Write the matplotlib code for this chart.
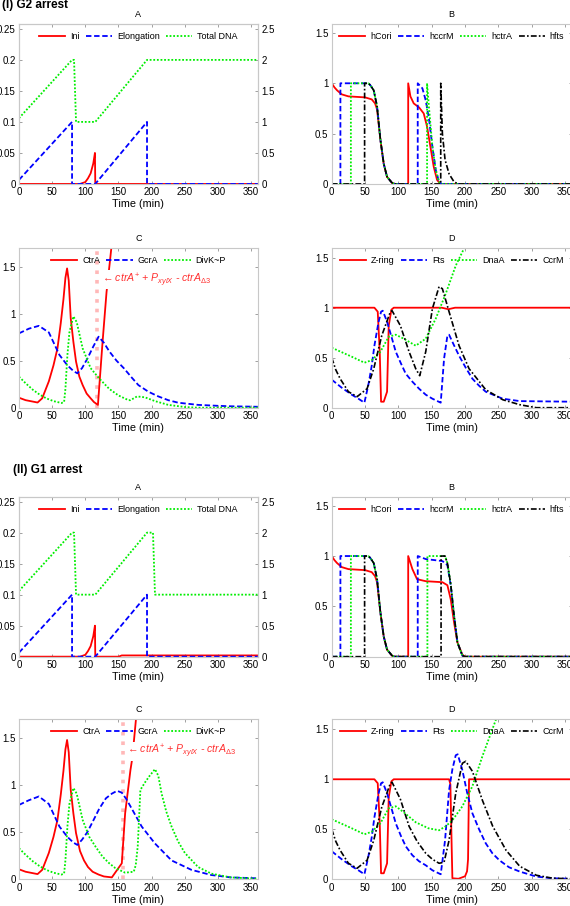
import numpy as np
import matplotlib
matplotlib.use('Agg')
import matplotlib.pyplot as plt
from matplotlib.ticker import FuncFormatter

plt.rcParams['font.family'] = ['Liberation Sans', 'DejaVu Sans']
plt.rcParams['mathtext.fontset'] = 'custom'
plt.rcParams['mathtext.it'] = 'Liberation Sans:italic'
plt.rcParams['mathtext.rm'] = 'Liberation Sans'

# ---------------- (I) G2 arrest ----------------
# panel A
g2_ini_t = [0, 92, 100, 104, 108, 112, 114.5, 115, 360]
g2_ini = [0, 0, 0.003, 0.009, 0.017, 0.033, 0.05, 0, 0]
g2_elong_t = [0, 80, 80, 115, 193, 193, 360]
g2_elong = [0.0065, 0.1, 0, 0, 0.1, 0, 0]
g2_dna_t = [0, 80, 83, 86, 115, 193, 360]
g2_dna = [1.06, 2, 2, 1, 1, 2, 2]

# panel B
g2_hcori_t = [0, 4, 8, 15, 25, 50, 60, 65, 68, 73, 78, 83, 90.5, 95, 114.7, 114.7,
              118, 123, 131, 138, 143, 148, 153, 158, 163, 360]
g2_hcori = [1, 0.96, 0.93, 0.89, 0.87, 0.86, 0.84, 0.8, 0.74, 0.44, 0.2, 0.07, 0.01, 0, 0, 1,
            0.87, 0.8, 0.76, 0.7, 0.57, 0.37, 0.17, 0.04, 0, 0]
g2_hccrm_t = [0, 13, 13, 55, 58, 63, 68, 73, 78, 83, 90.5, 95, 129, 129, 136, 141, 146,
              151, 156, 161, 165, 360]
g2_hccrm = [0, 0, 1, 1, 0.98, 0.93, 0.77, 0.44, 0.2, 0.07, 0.01, 0, 0, 1, 0.95, 0.83, 0.64,
            0.37, 0.14, 0.02, 0, 0]
g2_hctra_t = [0, 28.7, 28.7, 55, 58, 63, 68, 73, 78, 83, 90.5, 95, 143, 143, 146, 151,
              156, 161, 165, 360]
g2_hctra = [0, 0, 1, 1, 0.98, 0.93, 0.77, 0.44, 0.2, 0.07, 0.01, 0, 0, 1, 0.75, 0.37,
            0.14, 0.02, 0, 0]
g2_hfts_t = [0, 49.3, 49.3, 55, 58, 63, 68, 73, 78, 83, 90.5, 95, 163.5, 163.5, 166, 170,
             176, 183.5, 190, 360]
g2_hfts = [0, 0, 1, 1, 0.98, 0.93, 0.77, 0.44, 0.2, 0.07, 0.01, 0, 0, 1, 0.5, 0.24,
           0.1, 0.02, 0, 0]

# panel C
g2_ctra_t = [0, 10, 28, 35, 45, 52, 58, 63, 67, 70, 72.5, 75, 78, 82, 86, 91, 96, 102,
             108, 113, 119, 126, 132, 137, 140]
g2_ctra = [0.106, 0.08, 0.055, 0.1, 0.28, 0.45, 0.63, 0.9, 1.15, 1.38, 1.48, 1.35, 0.95,
           0.7, 0.49, 0.33, 0.24, 0.15, 0.1, 0.06, 0.03, 0.7, 1.23, 1.55, 1.75]
g2_gcra_t = [0, 15, 30, 45, 61, 73, 82, 88, 95, 103, 112, 120, 128, 136, 147, 158, 170,
             180, 195, 210, 225, 240, 270, 300, 320, 360]
g2_gcra = [0.79, 0.84, 0.87, 0.8, 0.56, 0.45, 0.39, 0.365, 0.42, 0.52, 0.65, 0.755, 0.69,
           0.6, 0.5, 0.42, 0.32, 0.24, 0.17, 0.12, 0.08, 0.053, 0.03, 0.02, 0.015, 0.01]
g2_divk_t = [0, 10, 21, 31, 41, 52, 64, 68, 70, 73, 76, 82, 87, 96, 108, 121, 136, 150,
             165, 168, 178, 190, 205, 225, 250, 270, 360]
g2_divk = [0.33, 0.26, 0.19, 0.14, 0.1, 0.07, 0.05, 0.06, 0.2, 0.56, 0.8, 0.97, 0.91,
           0.63, 0.42, 0.31, 0.2, 0.13, 0.08, 0.08, 0.12, 0.11, 0.07, 0.03, 0.007, 0, 0]
g2_release = 118

# panel D
g2_zring_t = [0, 64, 69, 72, 74, 78, 83, 85.5, 89.5, 93, 165, 175, 185, 360]
g2_zring = [1, 1, 0.96, 0.56, 0.06, 0.06, 0.16, 0.82, 0.98, 1, 1, 0.985, 1, 1]
g2_fts_t = [0, 15, 30, 40, 49, 55, 60, 64, 70, 74, 76.5, 83, 90, 96, 104, 111, 121, 131,
            141, 151, 163.5, 168.5, 173.5, 176, 183, 191, 201, 211, 221, 231, 256.5, 282, 360]
g2_fts = [0.28, 0.2, 0.13, 0.09, 0.05, 0.23, 0.42, 0.62, 0.85, 0.96, 0.97, 0.86, 0.7,
          0.56, 0.44, 0.34, 0.26, 0.19, 0.13, 0.09, 0.05, 0.49, 0.72, 0.73, 0.63, 0.52,
          0.4, 0.29, 0.22, 0.16, 0.09, 0.066, 0.06]
g2_dnaa_t = [0, 15, 30, 49, 60, 73, 85.5, 96, 108, 126, 141, 156, 171, 186, 199, 205]
g2_dnaa = [0.6, 0.555, 0.51, 0.45, 0.475, 0.56, 0.71, 0.73, 0.69, 0.62, 0.69, 0.89,
           1.14, 1.42, 1.6, 1.75]
g2_ccrm_t = [0, 6, 12.6, 25, 38, 53, 63, 75, 88, 90.5, 103, 116, 126, 132, 141, 151, 161,
             166, 176, 191, 206, 231, 256.5, 282, 307, 360]
g2_ccrm = [0.5, 0.38, 0.29, 0.16, 0.11, 0.19, 0.39, 0.72, 0.96, 0.97, 0.82, 0.56, 0.39,
           0.32, 0.56, 0.99, 1.21, 1.19, 0.96, 0.62, 0.39, 0.18, 0.08, 0.03, 0.0, 0.0]

# ---------------- (II) G1 arrest ----------------
# panel A
g1_ini_t = [0, 92, 100, 104, 108, 112, 114.5, 115, 150, 155, 360]
g1_ini = [0, 0, 0.003, 0.009, 0.017, 0.033, 0.05, 0, 0, 0.002, 0.002]
g1_elong_t = [0, 80, 80, 115, 193, 193, 360]
g1_elong = [0.0065, 0.1, 0, 0, 0.1, 0, 0]
g1_dna_t = [0, 80, 83, 86, 115, 193, 202, 205, 360]
g1_dna = [1.06, 2, 2, 1, 1, 2, 2, 1, 1]

# panel B
g1_hcori_t = [0, 4, 8, 15, 25, 50, 60, 65, 68, 73, 78, 83, 90.5, 95, 114.7, 114.7,
              121, 128, 141, 166, 173.5, 178.5, 183.5, 188.6, 196, 200, 360]
g1_hcori = [1, 0.96, 0.93, 0.89, 0.87, 0.86, 0.84, 0.8, 0.74, 0.44, 0.2, 0.07, 0.01, 0, 0, 1,
            0.87, 0.77, 0.75, 0.74, 0.71, 0.57, 0.34, 0.14, 0.02, 0, 0]
g1_hccrm_t = [0, 13, 13, 55, 58, 63, 68, 73, 78, 83, 90.5, 95, 129, 129, 141, 166, 173.5,
              178.5, 183.5, 188.6, 196, 200, 360]
g1_hccrm = [0, 0, 1, 1, 0.98, 0.93, 0.77, 0.44, 0.2, 0.07, 0.01, 0, 0, 1, 0.97, 0.95, 0.91,
            0.71, 0.41, 0.14, 0.01, 0, 0]
g1_hctra_t = [0, 28.7, 28.7, 55, 58, 63, 68, 73, 78, 83, 90.5, 95, 143.5, 143.5, 170,
              173.5, 178.5, 183.5, 188.6, 196, 200, 360]
g1_hctra = [0, 0, 1, 1, 0.98, 0.93, 0.77, 0.44, 0.2, 0.07, 0.01, 0, 0, 1, 1,
            0.93, 0.72, 0.41, 0.14, 0.01, 0, 0]
g1_hfts_t = [0, 49.3, 49.3, 55, 58, 63, 68, 73, 78, 83, 90.5, 95, 164, 164, 170,
             173.5, 178.5, 183.5, 188.6, 196, 200, 360]
g1_hfts = [0, 0, 1, 1, 0.98, 0.93, 0.77, 0.44, 0.2, 0.07, 0.01, 0, 0, 1, 1,
           0.93, 0.72, 0.41, 0.14, 0.01, 0, 0]

# panel C
g1_ctra_t = [0, 10, 28, 35, 45, 52, 58, 63, 67, 70, 72.5, 75, 78, 82, 86, 92, 98, 104,
             111, 120, 128, 140, 148, 155, 160, 168, 170, 173, 177]
g1_ctra = [0.106, 0.08, 0.055, 0.1, 0.28, 0.45, 0.63, 0.9, 1.15, 1.38, 1.48, 1.35, 0.95,
           0.7, 0.49, 0.3, 0.2, 0.13, 0.08, 0.05, 0.03, 0.02, 0.1, 0.17, 0.7, 1.16, 1.25,
           1.45, 1.75]
g1_gcra_t = [0, 15, 30, 45, 61, 73, 82, 88, 95, 103, 111, 121, 131, 140, 148, 155, 162,
             170, 185, 205, 230, 260, 290, 319, 360]
g1_gcra = [0.79, 0.84, 0.88, 0.8, 0.56, 0.45, 0.39, 0.365, 0.42, 0.5, 0.61, 0.75, 0.86,
           0.91, 0.94, 0.92, 0.85, 0.75, 0.56, 0.38, 0.2, 0.1, 0.045, 0.02, 0.01]
g1_divk_t = [0, 10, 21, 31, 41, 52, 64, 68, 70, 73, 76, 82, 87, 96, 106, 116, 126, 136,
             145, 160, 173, 176, 179, 183, 190, 197, 205, 210, 215, 222, 230, 240, 250,
             270, 290, 319, 360]
g1_divk = [0.33, 0.26, 0.19, 0.14, 0.1, 0.07, 0.05, 0.06, 0.2, 0.56, 0.8, 0.97, 0.91,
           0.63, 0.45, 0.34, 0.24, 0.17, 0.12, 0.07, 0.08, 0.15, 0.35, 0.95, 1.03, 1.1,
           1.17, 1.1, 0.91, 0.72, 0.56, 0.4, 0.28, 0.13, 0.06, 0.02, 0.005]
g1_release = 157

# panel D
g1_zring_t = [0, 64, 69, 72, 74, 78, 83, 85.5, 89.5, 93, 176, 178, 180, 181, 190, 200,
              203, 204.5, 206, 360]
g1_zring = [1, 1, 0.96, 0.56, 0.06, 0.06, 0.16, 0.82, 0.98, 1, 1, 0.95, 0.3, 0.01, 0.005,
            0.03, 0.08, 0.2, 1, 1]
g1_fts_t = [0, 15, 30, 40, 49, 55, 60, 64, 70, 74, 76.5, 83, 90, 96, 104, 111, 121, 131,
            141, 151, 163.5, 170, 176, 181, 186, 189, 196, 203, 211, 221, 231, 241, 251.5,
            266, 282, 307, 330, 360]
g1_fts = [0.28, 0.2, 0.13, 0.09, 0.05, 0.23, 0.42, 0.62, 0.85, 0.96, 0.97, 0.86, 0.7,
          0.56, 0.43, 0.33, 0.24, 0.18, 0.14, 0.09, 0.05, 0.39, 0.89, 1.1, 1.24, 1.25, 1.09,
          0.87, 0.66, 0.5, 0.36, 0.26, 0.19, 0.12, 0.077, 0.027, 0.01, 0.005]
g1_dnaa_t = [0, 15, 30, 49, 60, 73, 85.5, 96, 108, 126, 145, 161, 171, 181, 196, 211,
             226, 246.5, 250]
g1_dnaa = [0.6, 0.555, 0.51, 0.45, 0.475, 0.56, 0.71, 0.73, 0.67, 0.57, 0.51, 0.49, 0.53,
           0.59, 0.73, 0.93, 1.23, 1.6, 1.68]
g1_ccrm_t = [0, 6, 12.6, 25, 38, 53, 63, 75, 88, 90.5, 103, 116, 128, 141, 151, 161,
             168.5, 176, 186, 196, 201, 211, 226, 241.5, 261.5, 282, 307, 332, 360]
g1_ccrm = [0.5, 0.38, 0.29, 0.16, 0.11, 0.19, 0.39, 0.72, 0.96, 0.97, 0.8, 0.53, 0.38,
           0.26, 0.2, 0.16, 0.17, 0.39, 0.86, 1.16, 1.18, 1.08, 0.79, 0.53, 0.29, 0.13,
           0.04, 0.01, 0.005]

# ---------------- styles ----------------
RED = dict(color='#ff0000', lw=1.3, ls='-')
BLUE = dict(color='#0000ff', lw=1.3, dashes=(3.0, 1.5))
GREEN = dict(color='#00ee00', lw=1.3, dashes=(1, 1.0))
BLACK = dict(color='#000000', lw=1.2, dashes=(3.5, 1.3, 1, 1.3))
GRAY = '#c8c8c8'
FS = 6.5
TFS = 7

fmt = FuncFormatter(lambda v, p: '%g' % v)


def style(ax, ymax, yticks):
    ax.set_xlim(0, 360)
    ax.set_ylim(0, ymax)
    ax.set_xticks(np.arange(0, 360, 50))
    ax.set_yticks(yticks)
    ax.yaxis.set_major_formatter(fmt)
    ax.tick_params(direction='in', length=2.5, width=0.6, color='#909090',
                   labelsize=TFS, pad=2.5, top=True, right=True)
    for s in ax.spines.values():
        s.set_color(GRAY)
        s.set_linewidth(0.8)
    ax.set_xlabel('Time (min)', fontsize=7.8, labelpad=1.5)


def legend(ax, ncol):
    ax.legend(loc='upper center', ncol=ncol, frameon=False, fontsize=FS,
              handlelength=2.9, handletextpad=0.55, columnspacing=0.7,
              borderaxespad=0.5, borderpad=0.4)


fig = plt.figure(figsize=(5.7, 9.06), dpi=100)
L, R, W = 0.0333, 0.582, 0.421
rows = [0.797, 0.550, 0.2752, 0.0295]
H = 0.1766


def panel_a(bottom, ini_t, ini, el_t, el, dna_t, dna):
    ax = fig.add_axes([L, bottom, 0.419, H])
    ax.plot(ini_t, ini, label='Ini', **RED)
    ax.plot(el_t, el, label='Elongation', **BLUE)
    ax.plot([], [], label='Total DNA', **GREEN)
    style(ax, 0.258, [0, 0.05, 0.1, 0.15, 0.2, 0.25])
    ax.tick_params(right=False)
    ax2 = ax.twinx()
    ax2.plot(dna_t, dna, **GREEN)
    ax2.set_ylim(0, 2.58)
    ax2.set_yticks([0, 0.5, 1, 1.5, 2, 2.5])
    ax2.yaxis.set_major_formatter(fmt)
    ax2.tick_params(direction='in', length=2.5, width=0.6, color='#909090',
                    labelsize=TFS, pad=2.5)
    for s in ax2.spines.values():
        s.set_color(GRAY)
        s.set_linewidth(0.8)
    legend(ax, 3)
    ax.set_title('A', fontsize=FS, pad=5)


def panel_b(bottom, series):
    ax = fig.add_axes([R, bottom, W, H])
    styles = [RED, BLUE, GREEN, BLACK]
    names = ['hCori', 'hccrM', 'hctrA', 'hfts']
    for (t, v), st, n in zip(series, styles, names):
        ax.plot(t, v, label=n, **st)
    style(ax, 1.59, [0, 0.5, 1, 1.5])
    legend(ax, 4)
    ax.set_title('B', fontsize=FS, pad=5)


def panel_c(bottom, series, release):
    ax = fig.add_axes([L, bottom, 0.419, H])
    ax.axvline(release, color='#ffb8b8', lw=2.6, ls=':', zorder=1)
    styles = [RED, BLUE, GREEN]
    names = ['CtrA', 'GcrA', 'DivK~P']
    for (t, v), st, n in zip(series, styles, names):
        ax.plot(t, v, label=n, zorder=2, **st)
    style(ax, 1.7, [0, 0.5, 1, 1.5])
    legend(ax, 3)
    ax.text(release + 5, 1.36,
            r'$\leftarrow$$\mathit{ctrA}^{+}$ + $\mathit{P}_{\mathit{xylX}}$ - $\mathit{ctrA}_{\Delta 3}$',
            color='#ff3030', fontsize=7.6, style='italic', va='center', ha='left',
            zorder=5, bbox=dict(facecolor='white', edgecolor='none', pad=0.5))
    ax.set_title('C', fontsize=FS, pad=5)


def panel_d(bottom, series):
    ax = fig.add_axes([R, bottom, W, H])
    styles = [RED, BLUE, GREEN, BLACK]
    names = ['Z-ring', 'Fts', 'DnaA', 'CcrM']
    for (t, v), st, n in zip(series, styles, names):
        ax.plot(t, v, label=n, **st)
    style(ax, 1.6, [0, 0.5, 1, 1.5])
    legend(ax, 4)
    ax.set_title('D', fontsize=FS, pad=5)


panel_a(rows[0], g2_ini_t, g2_ini, g2_elong_t, g2_elong, g2_dna_t, g2_dna)
panel_b(rows[0], [(g2_hcori_t, g2_hcori), (g2_hccrm_t, g2_hccrm),
                  (g2_hctra_t, g2_hctra), (g2_hfts_t, g2_hfts)])
panel_c(rows[1], [(g2_ctra_t, g2_ctra), (g2_gcra_t, g2_gcra), (g2_divk_t, g2_divk)],
        g2_release)
panel_d(rows[1], [(g2_zring_t, g2_zring), (g2_fts_t, g2_fts),
                  (g2_dnaa_t, g2_dnaa), (g2_ccrm_t, g2_ccrm)])

panel_a(rows[2], g1_ini_t, g1_ini, g1_elong_t, g1_elong, g1_dna_t, g1_dna)
panel_b(rows[2], [(g1_hcori_t, g1_hcori), (g1_hccrm_t, g1_hccrm),
                  (g1_hctra_t, g1_hctra), (g1_hfts_t, g1_hfts)])
panel_c(rows[3], [(g1_ctra_t, g1_ctra), (g1_gcra_t, g1_gcra), (g1_divk_t, g1_divk)],
        g1_release)
panel_d(rows[3], [(g1_zring_t, g1_zring), (g1_fts_t, g1_fts),
                  (g1_dnaa_t, g1_dnaa), (g1_ccrm_t, g1_ccrm)])

fig.text(0.004, 0.994, '(I) G2 arrest', fontsize=8.5, fontweight='bold', va='center')
fig.text(0.023, 0.481, '(II) G1 arrest', fontsize=8.5, fontweight='bold', va='center')

fig.savefig('out.png', dpi=100)
